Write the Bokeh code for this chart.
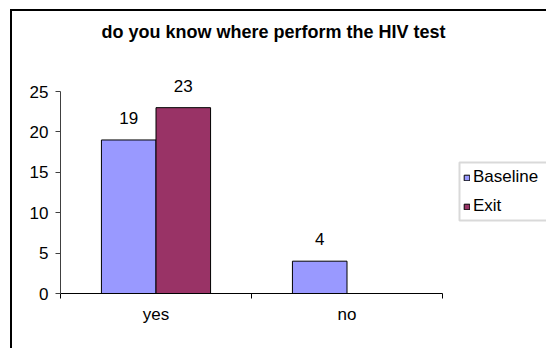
import numpy as np
from bokeh.core.properties import value
from bokeh.plotting import figure
from bokeh.models import (ColumnDataSource, Range1d, FixedTicker, LabelSet,
                          Label, Legend, LegendItem, BoxAnnotation)
from bokeh.embed import file_html
from bokeh.resources import INLINE

# --- data -------------------------------------------------------------
title_text = "do you know where perform the HIV test"
categories = ["yes", "no"]
series_names = ["Baseline", "Exit"]
baseline_vals = [19, 4]
exit_vals = [23, None]          # no answer recorded for "no" at exit
y_ticks = [0, 5, 10, 15, 20, 25]
series_colors = ["#9999FF", "#993366"]

FONT = "Liberation Sans"
GAP_WIDTH = 1.5                       # gap between groups, in bar widths
bar_w = 1.0 / (len(series_names) + GAP_WIDTH)
centers = np.arange(len(categories)) + 0.5

# plot area: the axes occupy 382 x 202 px; the frame is extended to the
# right and upwards so the title, value labels and legend sit inside it
AX_W, AX_H = 382, 202
FRAME_W, FRAME_H = 486, 282
y_max = y_ticks[-1]
x_hi = len(categories) * FRAME_W / AX_W
y_hi = y_max * FRAME_H / AX_H
px_per_x = AX_W / len(categories)
px_per_y = AX_H / y_max

p = figure(frame_width=FRAME_W, frame_height=FRAME_H,
           min_border_left=48, min_border_right=0,
           min_border_top=0, min_border_bottom=55,
           x_range=Range1d(0, x_hi), y_range=Range1d(0, y_hi),
           output_backend="svg", toolbar_location=None)
p.margin = (9, 0, 0, 10)
p.styles = {"border-left": "2px solid #000000", "border-top": "2px solid #000000"}
p.background_fill_color = "white"
p.border_fill_color = "white"
p.outline_line_color = None
p.xgrid.visible = False
p.ygrid.visible = False

# legend frame (open towards the right edge of the chart)
BOX_X, BOX_Y, BOX_H = 399, 73, 58
p.add_layout(BoxAnnotation(left=BOX_X / px_per_x, right=x_hi + 1,
                           bottom=BOX_Y / px_per_y, top=(BOX_Y + BOX_H) / px_per_y,
                           fill_color="white", fill_alpha=1,
                           line_color="#808080", line_width=2))

renderers = []
for k, (name, vals, color) in enumerate(zip(series_names, [baseline_vals, exit_vals], series_colors)):
    xs = centers + (k - (len(series_names) - 1) / 2) * bar_w
    tops = np.array([np.nan if v is None else v for v in vals], dtype=float)
    src = ColumnDataSource(dict(x=xs, top=tops))
    r = p.vbar(x="x", top="top", width=bar_w, source=src,
               fill_color=color, line_color="black", line_width=1)
    renderers.append((name, r))
    keep = [i for i, v in enumerate(vals) if v is not None]
    lsrc = ColumnDataSource(dict(x=[xs[i] for i in keep],
                                 y=[vals[i] for i in keep],
                                 t=[str(vals[i]) for i in keep]))
    p.add_layout(LabelSet(x="x", y="y", text="t", source=lsrc, y_offset=16,
                          text_align="center", text_baseline="alphabetic",
                          text_font=value(FONT), text_font_size="17px",
                          text_color="black"))

# y axis
ya = p.yaxis[0]
ya.bounds = (0, y_max)
ya.ticker = FixedTicker(ticks=y_ticks)
ya.axis_line_color = "#404040"
ya.major_tick_line_color = "#404040"
ya.major_tick_out = 5
ya.major_tick_in = 0
ya.minor_tick_line_color = None
ya.major_label_standoff = 7
ya.major_label_text_font = FONT
ya.major_label_text_font_size = "17px"
ya.major_label_text_color = "black"

# x axis: category names at centers, tick marks between categories
xa = p.xaxis[0]
xa.bounds = (0, len(categories))
xa.ticker = FixedTicker(ticks=list(centers), minor_ticks=list(range(len(categories) + 1)))
xa.major_label_overrides = {float(c): name for c, name in zip(centers, categories)}
xa.axis_line_color = "black"
xa.major_tick_line_color = None
xa.major_tick_out = 0
xa.major_tick_in = 0
xa.minor_tick_line_color = "black"
xa.minor_tick_out = 5
xa.minor_tick_in = 0
xa.major_label_standoff = 6
xa.major_label_text_font = FONT
xa.major_label_text_font_size = "17px"
xa.major_label_text_color = "black"

# chart title
p.add_layout(Label(x=1.115, y=32.4, text=title_text, text_align="center",
                   text_baseline="alphabetic", text_font=FONT, text_color="black",
                   text_font_style="bold", text_font_size="18px"))

legend = Legend(items=[LegendItem(label=n, renderers=[r]) for n, r in renderers],
                location=(403, 77), orientation="vertical",
                glyph_width=7, glyph_height=7, label_height=20, spacing=9,
                padding=5, margin=0, label_standoff=3,
                label_text_font=FONT, label_text_font_size="17px",
                label_text_color="black",
                border_line_color=None, background_fill_alpha=0)
p.add_layout(legend)

open("out.html", "w").write(file_html(p, INLINE))
